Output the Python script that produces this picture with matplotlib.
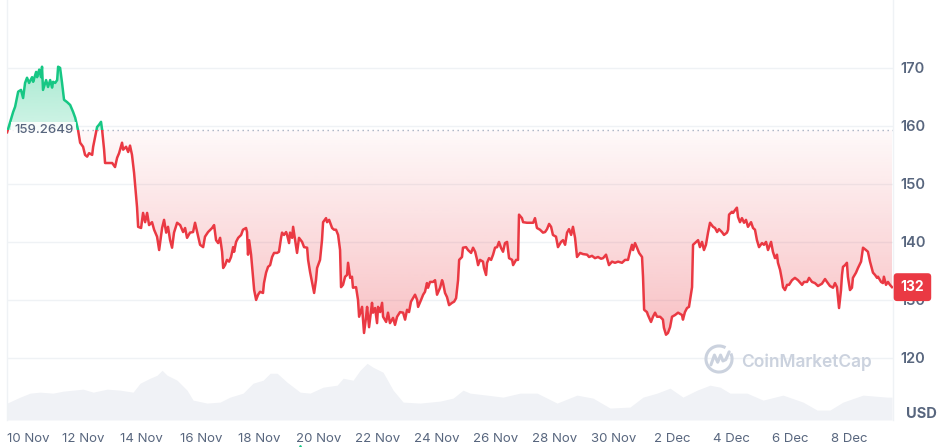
import numpy as np
import matplotlib
matplotlib.use("Agg")
import matplotlib.pyplot as plt
import matplotlib.dates as mdates
import matplotlib.colors as mcolors
import matplotlib.transforms as mtransforms
from matplotlib.path import Path
from matplotlib.patches import PathPatch, Arc, Rectangle
from matplotlib.ticker import FixedLocator, FixedFormatter

plt.rcParams['font.family'] = ['Inter', 'DejaVu Sans']

# hours since 10 Nov 00:00 and price in USD
hours = [
    -13.5, -8.6, -7.0, -4.5, -2.2, -0.5, 1.1, 2.7, 4.4, 6.8, 7.7, 10.1, 10.9, 12.6, 14.1,
    14.9, 15.7, 18.2, 19.8, 21.5, 23.1, 23.9, 25.6, 27.2, 28.0, 29.6, 31.2, 32.8, 35.3, 37.8,
    40.2, 41.9, 44.2, 45.9, 48.3, 49.9, 51.6, 53.2, 55.7, 56.5, 58.1, 59.7, 61.3, 62.9, 63.8,
    65.4, 66.2, 68.7, 72.0, 74.3, 76.0, 77.6, 80.0, 80.9, 83.3, 85.0, 86.5, 88.1, 89.8, 92.2,
    93.1, 95.5, 97.1, 98.8, 100.4, 102.0, 104.4, 106.1, 108.5, 110.2, 112.6, 114.2, 115.9, 117.4, 119.1,
    120.7, 122.3, 124.8, 127.3, 129.7, 131.3, 132.9, 135.3, 137.8, 139.4, 141.1, 143.5, 146.0, 147.5, 150.0,
    153.3, 154.9, 156.5, 158.2,
    159.8, 161.4, 162.3, 163.8, 165.4, 167.1, 168.7, 170.4, 171.2, 172.8, 174.5, 176.9, 178.4, 180.9, 181.7,
    182.5, 183.4, 185.0, 186.6, 187.5, 189.1, 190.7, 192.3, 194.7, 195.5, 197.2, 198.8, 200.5, 202.1, 203.7,
    206.2, 207.7, 209.4, 210.2, 211.8, 213.5, 214.3, 215.9, 216.7, 218.4, 219.2, 220.8, 222.4, 224.0, 226.5,
    228.1, 230.6, 231.4, 233.0, 234.7, 236.3, 237.8, 238.7, 241.1, 242.7, 243.6, 246.0, 246.8, 248.5, 250.9,
    252.5, 254.1, 255.8, 257.4, 258.2, 259.8, 261.5, 263.1, 263.9, 265.6, 267.1, 267.9, 270.4, 272.0, 272.9,
    275.3, 276.9, 278.6, 279.4, 281.0, 283.4, 284.2, 285.9, 287.5, 288.3, 290.0, 291.6, 292.4, 294.9, 296.4,
    298.0, 300.5, 302.1, 303.8, 306.2, 308.7, 310.3, 311.9, 313.5, 315.1, 316.8, 318.4, 320.1, 320.9, 323.3,
    325.0, 326.5, 328.1, 329.0, 330.6,
    333.1, 334.7, 336.3, 338.8, 340.4, 341.2, 342.8, 344.4, 346.1, 348.5, 350.2, 351.8, 353.4, 354.3, 356.6,
    357.4, 359.9, 361.5, 364.0, 365.6, 367.3, 368.9, 369.7, 371.3, 373.7, 374.5, 376.2, 377.0, 378.6, 380.3,
    381.9, 383.5, 385.2, 386.7, 388.3, 390.0, 391.6, 393.3, 394.9, 397.4, 398.2, 400.6, 402.2, 403.0, 405.4,
    406.3, 409.5, 412.0, 414.5, 416.0, 417.6, 420.1, 422.5, 424.2, 425.8, 427.5, 429.1, 430.6, 433.1, 434.7,
    437.2, 438.8, 440.5, 442.1, 443.7, 445.4, 446.9, 448.6, 450.2, 452.7, 455.1, 458.4, 460.0, 462.4, 464.8,
    467.3, 469.7, 471.4, 473.8, 475.4, 476.2, 478.7, 481.1, 483.6, 486.8, 489.3, 491.7, 493.3, 494.9, 495.8,
    497.4, 499.0, 500.7, 503.1, 503.9, 504.8, 507.1, 507.9, 510.4, 512.0, 513.7, 515.3, 517.8, 520.1, 520.9,
    522.6, 524.2, 525.9, 527.5, 530.0, 532.4, 535.6, 536.4, 538.0, 539.7, 541.3, 543.8, 544.6, 547.1, 548.7,
    550.2, 551.9, 553.5, 555.1, 556.8, 558.4, 560.9, 562.5, 564.2, 565.7, 568.1, 569.8, 572.2, 573.1, 573.9,
    576.3, 577.2, 578.8, 580.3, 581.2, 582.8, 584.4, 586.1, 587.7, 589.3, 591.8, 593.4, 595.0, 596.6, 598.3,
    600.7, 602.3, 604.0, 605.6, 608.1, 609.6, 611.3, 612.9, 613.7, 615.4, 617.0, 617.8, 619.4, 621.1, 622.7,
    625.1, 627.5, 630.0, 633.3, 634.9, 637.4, 639.0, 641.4, 643.8, 646.3, 649.5, 652.0, 653.6, 656.0, 658.5,
    660.1, 661.7, 663.4, 665.0, 665.8, 666.6, 668.3, 669.8, 670.6, 672.3, 673.9, 674.7, 677.2, 678.8, 681.3,
    682.9, 685.3, 686.9, 688.6, 691.0, 692.7, 694.3, 695.1, 697.6, 699.1, 699.9, 701.6, 703.2, 704.8, 706.5,
]
price = [
    158.9, 162.4, 163.3, 165.9, 166.2, 164.8, 167.4, 168.3, 167.4, 168.4, 167.6, 169.3, 168.4, 169.7, 168.4,
    170.2, 166.2, 167.9, 166.7, 167.9, 166.6, 167.6, 167.4, 167.9, 170.2, 170.0, 167.4, 164.5, 164.1, 163.6,
    162.4, 161.4, 159.3, 157.1, 156.4, 155.0, 154.7, 155.3, 155.0, 156.4, 158.1, 159.8, 160.2, 160.7, 159.3,
    155.9, 153.6, 153.6, 153.6, 152.9, 154.5, 155.3, 157.1, 155.9, 156.4, 155.5, 156.6, 155.0, 151.9, 146.0,
    142.6, 142.4, 145.0, 143.4, 145.0, 142.9, 143.4, 142.1, 140.9, 138.6, 142.4, 143.8, 141.6, 142.6, 140.3,
    139.0, 141.6, 143.3, 142.9, 141.7, 142.4, 140.7, 141.6, 141.7, 143.3, 141.7, 139.5, 139.1, 140.9, 141.7,
    142.4, 142.9, 140.3, 139.8,
    140.7, 138.3, 135.5, 136.0, 136.9, 136.6, 137.4, 139.1, 138.3, 140.0, 140.7, 141.2, 142.1, 142.4, 141.7,
    137.8, 140.3, 137.8, 134.0, 131.7, 130.0, 130.9, 131.4, 131.2, 132.9, 134.7, 135.7, 136.0, 137.4, 138.1,
    138.1, 138.3, 140.7, 141.6, 141.2, 141.7, 141.2, 139.8, 141.6, 140.7, 142.6, 140.3, 138.1, 140.7, 140.0,
    139.1, 139.0, 136.9, 134.8, 132.9, 131.2, 133.4, 135.5, 136.9, 140.3, 143.4, 144.1, 143.4, 143.8, 142.4,
    142.1, 142.1, 141.2, 138.6, 132.2, 132.6, 134.0, 134.3, 136.4, 133.8, 134.0, 132.1, 132.2, 130.0, 127.1,
    128.8, 124.3, 127.1, 128.8, 125.3, 129.5, 127.8, 128.6, 126.0, 128.8, 127.9, 129.5, 127.1, 126.2, 127.8,
    126.0, 126.9, 125.7, 127.1, 127.9, 127.8, 126.6, 128.3, 127.9, 129.7, 130.3, 130.9, 130.0, 128.8, 130.0,
    130.9, 131.4, 132.9, 132.1, 133.1,
    133.1, 133.4, 130.9, 132.1, 133.4, 132.9, 131.2, 130.5, 129.1, 129.5, 129.7, 130.3, 133.4, 136.9, 137.4,
    139.0, 139.1, 138.6, 138.1, 139.0, 138.3, 136.9, 136.0, 136.9, 136.6, 135.5, 134.3, 136.4, 137.2, 136.9,
    137.8, 139.0, 139.1, 140.0, 139.0, 138.3, 139.8, 140.0, 137.2, 136.9, 136.0, 136.9, 136.9, 144.7, 144.1,
    143.4, 143.3, 143.3, 143.3, 144.1, 142.4, 142.1, 141.6, 141.7, 142.2, 143.1, 142.6, 141.2, 140.9, 139.1,
    140.0, 140.3, 139.5, 141.6, 142.2, 141.2, 142.6, 140.7, 137.4, 138.1, 137.9, 137.8, 137.4, 137.6, 137.2,
    137.4, 137.1, 137.2, 137.8, 136.6, 136.0, 136.6, 136.4, 136.6, 136.4, 136.9, 136.9, 138.3, 139.5, 138.6,
    139.8, 139.0, 138.1, 137.4, 134.0, 128.3, 127.9, 127.4, 126.2, 127.1, 127.8, 127.1, 127.1, 126.6, 125.2,
    124.0, 124.3, 125.3, 127.1, 127.4, 127.8, 127.4, 126.6, 127.9, 128.6, 128.8, 132.2, 139.5, 140.0, 140.3,
    139.1, 140.0, 138.6, 139.5, 141.6, 143.3, 142.6, 142.4, 141.7, 142.2, 141.7, 141.2, 141.6, 142.1, 144.7,
    145.2, 145.0, 145.5, 145.9, 144.3, 143.4, 144.1, 143.3, 143.8, 142.6, 143.4, 142.4, 142.1, 140.3, 139.1,
    139.8, 139.5, 140.0, 138.6, 140.0, 138.3, 137.2, 137.8, 136.4, 135.2, 133.4, 132.2, 131.7, 132.6, 132.6,
    133.4, 133.8, 133.4, 132.6, 133.1, 133.1, 133.8, 133.1, 132.9, 132.4, 132.8, 133.6, 133.1, 132.4, 132.1,
    132.9, 132.2, 128.6, 131.7, 134.3, 135.7, 136.0, 136.4, 134.0, 131.7, 132.1, 133.8, 134.7, 135.5, 136.6,
    139.0, 138.6, 138.3, 136.6, 134.7, 134.3, 133.8, 134.0, 133.1, 132.9, 134.0, 132.6, 133.1, 132.6, 132.2,
]
assert len(hours) == len(price)

base_price = 159.2649

# trading volume (relative), hours since 10 Nov 00:00
vol_hours = [
    -13.5, -2.9, 5.2, 13.3, 23.9, 32.1, 48.3, 56.5, 67.9, 78.4, 89.0, 94.7, 102.8, 108.5, 112.6,
    116.7, 124.8, 132.9, 137.8, 149.2, 159.8, 167.9, 178.5, 186.6, 194.8, 200.5, 206.2, 214.3, 224.9, 233.0,
    243.6, 255.0, 259.9, 268.0, 273.7, 279.4, 284.3, 292.4, 300.6, 308.7, 322.5, 338.8, 349.4, 357.5, 363.2,
    377.0, 390.0, 403.8, 417.7, 434.0, 450.2, 463.2, 477.1, 493.3, 503.9, 515.3, 525.9, 536.4, 547.9, 558.4,
    566.6, 574.7, 588.5, 601.6, 617.8, 634.1, 645.5, 656.0, 666.6, 682.9, 702.4, 706.5,
]
volume = [
    17, 23, 27, 28, 27, 29, 31, 28, 31, 30, 28, 37, 42, 45, 50,
    45, 40, 30, 20, 17, 18, 23, 27, 37, 40, 47, 47, 38, 28, 27,
    33, 35, 42, 40, 50, 57, 53, 48, 30, 18, 17, 19, 22, 30, 27,
    25, 23, 27, 27, 17, 25, 22, 12, 13, 23, 27, 32, 23, 30, 35,
    33, 27, 27, 20, 25, 18, 10, 10, 18, 25, 23, 23,
]
assert len(vol_hours) == len(volume)

tick_days = list(range(0, 30, 2))
tick_labels = ['10 Nov', '12 Nov', '14 Nov', '16 Nov', '18 Nov', '20 Nov', '22 Nov', '24 Nov',
               '26 Nov', '28 Nov', '30 Nov', '2 Dec', '4 Dec', '6 Dec', '8 Dec']
price_ticks = [120, 130, 140, 150, 160, 170]

GREEN = '#16c784'
RED = '#ea3943'
GREY = '#58667e'
GRID = '#eff2f5'

t0 = mdates.date2num(np.datetime64('2023-11-10T00:00'))
t = t0 + np.array(hours) / 24.0
p = np.array(price)
vt = t0 + np.array(vol_hours) / 24.0

fig = plt.figure(figsize=(9.45, 4.47), dpi=100)
W, H = 945, 447
ax = fig.add_axes([7 / W, 27 / H, 886 / W, 420 / H])
xmin, xmax = t0 - 13.6 / 24, t0 + 707.3 / 24
ymin, ymax = 109.3, 181.7

# volume underlay
vax = ax.twinx()
vax.fill_between(vt, 0, volume, color='#f0f2f6', lw=0)
vax.set_ylim(0, max(volume) / 0.135)
vax.set_axis_off()
vax.set_zorder(ax.get_zorder() - 1)
ax.patch.set_visible(False)


def gradient_fill(where, color, y_lo, y_hi, a_lo, a_hi):
    poly = ax.fill_between(t, p, base_price, where=where, interpolate=True,
                           facecolor='none', edgecolor='none')
    clip = PathPatch(Path.make_compound_path(*poly.get_paths()),
                     transform=ax.transData, facecolor='none', edgecolor='none')
    ax.add_patch(clip)
    img = np.zeros((256, 1, 4))
    img[..., :3] = mcolors.to_rgb(color)
    img[:, 0, 3] = np.linspace(a_hi, a_lo, 256)
    im = ax.imshow(img, aspect='auto', origin='upper', extent=[t[0], t[-1], y_lo, y_hi],
                   zorder=1, interpolation='bilinear')
    im.set_clip_path(clip)


gradient_fill(p >= base_price, GREEN, base_price, 171, 0.2, 0.38)
gradient_fill(p <= base_price, RED, 123.5, base_price, 0.32, 0.03)

# price line, coloured above / below the open
for col, y0, y1 in [(GREEN, base_price, 200), (RED, 90, base_price)]:
    ln, = ax.plot(t, p, color=col, lw=1.8, zorder=3, solid_joinstyle='round')
    ln.set_clip_path(Rectangle((xmin, y0), xmax - xmin, y1 - y0, transform=ax.transData))

ax.axhline(base_price, color='#a7b1c2', lw=1.0, ls=(0, (1, 2.6)), zorder=2)

ax.set_xlim(xmin, xmax)
ax.set_ylim(ymin, ymax)

ax.set_yticks(price_ticks)
ax.yaxis.tick_right()
ax.tick_params(axis='y', length=0, pad=5, labelsize=10.5, labelcolor=GREY)
for lbl in ax.get_yticklabels():
    lbl.set_fontweight('semibold')
ax.grid(axis='y', color=GRID, lw=1)
ax.set_axisbelow(True)

ax.xaxis.set_major_locator(FixedLocator([t0 + d for d in tick_days]))
ax.xaxis.set_major_formatter(FixedFormatter(tick_labels))
ax.tick_params(axis='x', length=0, pad=9, labelsize=9.5, labelcolor=GREY)
first = ax.get_xticklabels()[0]
first.set_transform(first.get_transform() + mtransforms.ScaledTranslation(0.05, 0, fig.dpi_scale_trans))

for s in ['top', 'bottom']:
    ax.spines[s].set_visible(False)
for s in ['left', 'right']:
    ax.spines[s].set_color(GRID)
    ax.spines[s].set_linewidth(1)

# open price label
ax.text(t0 - 7.8 / 24, base_price, '159.2649', fontsize=9.5, fontweight='medium', color=GREY,
        va='center', ha='left', zorder=5,
        bbox=dict(boxstyle='square,pad=0.2', fc='white', ec='none', alpha=0.85))

# last price badge
ax.annotate(f'{p[-1]:.0f}', xy=(1, p[-1]), xycoords=ax.get_yaxis_transform(),
            xytext=(5.5, 0), textcoords='offset points', ha='left', va='center',
            fontsize=10, fontweight='bold', color='white', zorder=6, annotation_clip=False,
            bbox=dict(boxstyle='round,pad=0.5,rounding_size=0.25', fc=RED, ec='none'))

fig.text(906 / W, 1 - 414 / H, 'USD', fontsize=10.5, fontweight='bold', color=GREY,
         ha='left', va='center')

# watermark
WM = '#cbd2de'
fig.text(741 / W, 1 - 362 / H, 'CoinMarketCap', fontsize=12.5, fontweight='semibold',
         color=WM, ha='left', va='center')
lax = fig.add_axes([704 / W, 1 - 374 / H, 30 / W, 30 / H])
lax.set_xlim(-1.15, 1.15)
lax.set_ylim(-1.15, 1.15)
lax.set_aspect('equal')
lax.set_axis_off()
lax.add_patch(Arc((0, 0), 2, 2, theta1=60, theta2=25, color=WM, lw=2.2))
lax.plot([-0.62, -0.35, -0.1, 0.12, 0.3, 0.52, 0.78],
         [-0.45, 0.3, -0.25, 0.3, -0.15, -0.05, 0.55], color=WM, lw=2.2,
         solid_joinstyle='round', solid_capstyle='round')

# event marker under the axis
ax.plot([t0 + 224.9 / 24], [-0.005], marker='^', ms=6, color=GREEN, clip_on=False,
        transform=mtransforms.blended_transform_factory(ax.transData, fig.transFigure))

fig.savefig('out.png', dpi=100)
